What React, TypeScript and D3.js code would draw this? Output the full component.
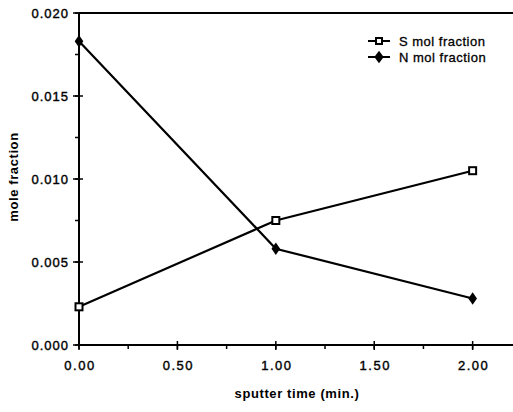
import React, { useEffect, useRef } from 'react';
import * as d3 from 'd3';

const times = [0, 1, 2];
const sValues = [0.0023, 0.0075, 0.0105];
const nValues = [0.0183, 0.0058, 0.0028];
const xTicks = [0, 0.5, 1, 1.5, 2];
const yTicks = [0, 0.005, 0.01, 0.015, 0.02];
const seriesNames = ['S mol fraction', 'N mol fraction'];

export default function App() {
  const ref = useRef<SVGSVGElement>(null);

  useEffect(() => {
    const svg = d3.select(ref.current);
    svg.selectAll('*').remove();

    const x = d3.scaleLinear().domain([0, 2.2]).range([79, 512]);
    const y = d3.scaleLinear().domain([0, 0.02]).range([345, 13]);
    const font = 'Liberation Sans, Arial, sans-serif';

    // frame top line
    svg.append('line').attr('x1', x(0)).attr('x2', 513).attr('y1', y(0.02)).attr('y2', y(0.02))
      .attr('stroke', '#000').attr('stroke-width', 2);

    // x axis
    svg.append('line').attr('x1', x(0)).attr('x2', 513).attr('y1', y(0)).attr('y2', y(0))
      .attr('stroke', '#000').attr('stroke-width', 2);
    const xMinor = d3.range(0, 2.21, 0.25);
    svg.selectAll('.xminor').data(xMinor).join('line')
      .attr('x1', d => x(d)).attr('x2', d => x(d))
      .attr('y1', y(0)).attr('y2', y(0) + 4)
      .attr('stroke', '#000').attr('stroke-width', 1.5);
    svg.selectAll('.xmajor').data(xTicks).join('line')
      .attr('x1', d => x(d)).attr('x2', d => x(d))
      .attr('y1', y(0) - 4).attr('y2', y(0) + 5)
      .attr('stroke', '#000').attr('stroke-width', 1.5);
    svg.selectAll('.xlab').data(xTicks).join('text')
      .attr('x', d => x(d) + 1).attr('y', 370)
      .attr('text-anchor', 'middle')
      .attr('font-family', font).attr('font-size', 13).attr('letter-spacing', 1.5)
      .attr('stroke', '#000').attr('stroke-width', 0.4)
      .text(d => d3.format('.2f')(d));

    // y axis
    svg.append('line').attr('x1', x(0)).attr('x2', x(0)).attr('y1', y(0)).attr('y2', y(0.02))
      .attr('stroke', '#000').attr('stroke-width', 2);
    const yMinor = d3.range(0, 0.0201, 0.0025);
    svg.selectAll('.yminor').data(yMinor).join('line')
      .attr('x1', x(0) - 4).attr('x2', x(0))
      .attr('y1', d => y(d)).attr('y2', d => y(d))
      .attr('stroke', '#000').attr('stroke-width', 1.5);
    svg.selectAll('.ymajor').data(yTicks).join('line')
      .attr('x1', x(0) - 6).attr('x2', x(0) + 4)
      .attr('y1', d => y(d)).attr('y2', d => y(d))
      .attr('stroke', '#000').attr('stroke-width', 1.5);
    svg.selectAll('.ylab').data(yTicks).join('text')
      .attr('x', 69).attr('y', d => y(d) + 5)
      .attr('text-anchor', 'end')
      .attr('font-family', font).attr('font-size', 13).attr('letter-spacing', 1)
      .attr('stroke', '#000').attr('stroke-width', 0.4)
      .text(d => d3.format('.3f')(d));

    // axis titles
    svg.append('text').attr('x', 297).attr('y', 398).attr('text-anchor', 'middle')
      .attr('font-family', font).attr('font-size', 13).attr('font-weight', 'bold').attr('letter-spacing', 0.6)
      .text('sputter time (min.)');
    svg.append('text').attr('transform', 'translate(18,177) rotate(-90)').attr('text-anchor', 'middle')
      .attr('font-family', font).attr('font-size', 13).attr('font-weight', 'bold').attr('letter-spacing', 0.6)
      .text('mole fraction');

    const line = d3.line<number>().x((d, i) => x(times[i])).y(d => y(d));
    svg.append('path').attr('d', line(sValues)).attr('fill', 'none').attr('stroke', '#000').attr('stroke-width', 2.2);
    svg.append('path').attr('d', line(nValues)).attr('fill', 'none').attr('stroke', '#000').attr('stroke-width', 2.2);

    svg.selectAll('.smark').data(sValues).join('rect')
      .attr('x', (d, i) => x(times[i]) - 3.5).attr('y', d => y(d) - 3.5)
      .attr('width', 7).attr('height', 7)
      .attr('fill', '#fff').attr('stroke', '#000').attr('stroke-width', 2);
    const diamond = d3.symbol().type(d3.symbolDiamond).size(45);
    svg.selectAll('.nmark').data(nValues).join('path')
      .attr('transform', (d, i) => `translate(${x(times[i])},${y(d)}) scale(1.2,1)`)
      .attr('d', diamond()).attr('fill', '#000');

    // legend
    const lg = svg.append('g').attr('transform', 'translate(368,41)');
    seriesNames.forEach((name, i) => {
      const g = lg.append('g').attr('transform', `translate(0,${i * 16})`);
      g.append('line').attr('x1', 0).attr('x2', 22).attr('y1', 0).attr('y2', 0).attr('stroke', '#000').attr('stroke-width', 2);
      if (i === 0) {
        g.append('rect').attr('x', 8).attr('y', -3).attr('width', 6).attr('height', 6)
          .attr('fill', '#fff').attr('stroke', '#000').attr('stroke-width', 2);
      } else {
        g.append('path').attr('transform', 'translate(11,0) scale(1.3,1)').attr('d', diamond()).attr('fill', '#000');
      }
      g.append('text').attr('x', 31).attr('y', 5)
        .attr('font-family', font).attr('font-size', 13).attr('letter-spacing', 0.5)
        .attr('stroke', '#000').attr('stroke-width', 0.3)
        .text(name);
    });
  }, []);

  return <svg ref={ref} width={513} height={412} style={{ position: 'absolute', left: 0, top: 0, background: '#fff' }} />;
}
